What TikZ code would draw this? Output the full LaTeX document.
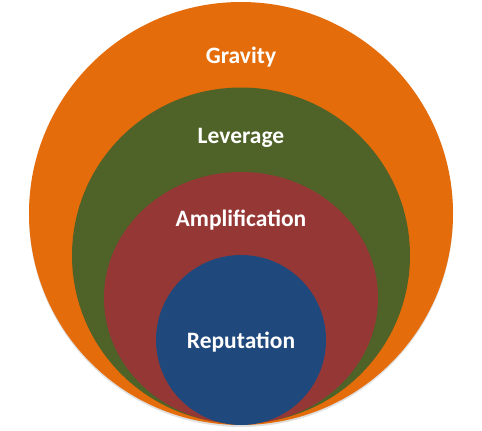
\documentclass[tikz,border=0pt]{standalone}
\usepackage{fontspec}
\setmainfont{Carlito}
\usetikzlibrary{shapes.geometric}
\definecolor{cOrange}{HTML}{E46C0A}
\definecolor{cGreen}{HTML}{4F6228}
\definecolor{cRed}{HTML}{953735}
\definecolor{cBlue}{HTML}{1F497D}
\tikzset{
  ring/.style={ellipse, inner sep=0pt, outer sep=0pt},
  lbl/.style={text=white, font=\bfseries\fontsize{23.5}{28}\selectfont, inner sep=0pt}
}
\begin{document}
\begin{tikzpicture}[x=1pt,y=-1pt]
\useasboundingbox (0,0) rectangle (482,431);
\fill[black!35, opacity=0.35] (241,215.5) ellipse [x radius=212, y radius=211.5];
\node[ring, fill=cOrange, minimum width=424pt, minimum height=423pt] (gravity) at (241,213.5) {};
\node[ring, fill=cGreen, minimum width=338pt, minimum height=336pt] (leverage) at (241,255.5) {};
\node[ring, fill=cRed, minimum width=274pt, minimum height=252pt] (amplification) at (241,298) {};
\node[ring, fill=cBlue, minimum width=170pt, minimum height=170pt] (reputation) at (241,340) {};
\node[lbl] (tg) at (241,57) {Gravity};
\node[lbl] (tl) at (241,138) {Leverage};
\node[lbl] (ta) at (241,220) {Amplification};
\node[lbl] (tr) at (241,342) {Reputation};
\end{tikzpicture}
\end{document}
